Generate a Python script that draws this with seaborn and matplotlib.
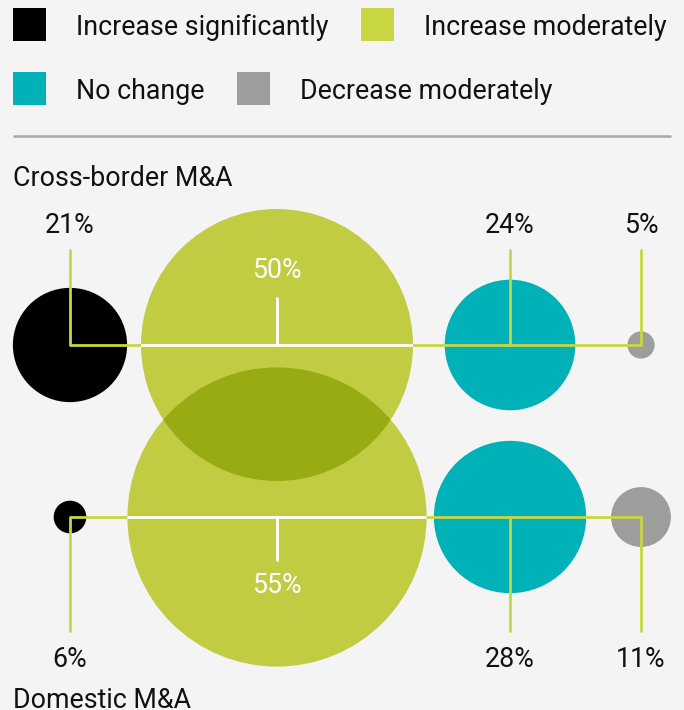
import matplotlib
matplotlib.use("Agg")
import matplotlib.pyplot as plt
from matplotlib.patches import Circle, Rectangle
import seaborn as sns
import pandas as pd

# ---------------- data ----------------
categories = ["Increase significantly", "Increase moderately", "No change", "Decrease moderately"]
cross_border = [21, 50, 24, 5]
domestic = [6, 55, 28, 11]
row_titles = ["Cross-border M&A", "Domestic M&A"]

df = pd.DataFrame({"category": categories * 2,
                   "value": cross_border + domestic,
                   "row": [row_titles[0]] * 4 + [row_titles[1]] * 4})

# ---------------- style ----------------
BG = "#f4f4f4"
colors = ["#000000", "#c1cc42", "#00b2b7", "#9d9d9c"]
legend_colors = ["#000000", "#c8d642", "#00b2b7", "#9d9d9c"]
OVERLAP = "#99ab12"
LINE = "#c8d642"
sns.set_theme(style="white")
plt.rcParams["font.family"] = ["Roboto", "DejaVu Sans"]

W, H = 684, 710
fig = plt.figure(figsize=(W / 100, H / 100), dpi=100, facecolor=BG)
ax = fig.add_axes([0, 0, 1, 1])
ax.set_facecolor(BG)
ax.set_xlim(0, W)
ax.set_ylim(H, 0)
ax.set_aspect("equal")
ax.axis("off")

FS = 19.3
TXT = "#111111"

# ---------------- legend (flow layout) ----------------
renderer = fig.canvas.get_renderer()
legend_rows = [[0, 1], [2, 3]]
row_top = [8, 72]
row_base = [35, 99]
for r, idxs in enumerate(legend_rows):
    x = 13
    for i in idxs:
        ax.add_patch(Rectangle((x, row_top[r]), 33, 33, color=legend_colors[i], lw=0))
        t = ax.text(x + 63, row_base[r], categories[i], fontsize=FS, color=TXT,
                    ha="left", va="baseline")
        bb = t.get_window_extent(renderer=renderer)
        x = bb.x1 + 32

# separator
ax.plot([13, 671], [136, 136], color="#a8a8a8", lw=1.8, solid_capstyle="butt")

# row titles
ax.text(13, 186, row_titles[0], fontsize=FS, color=TXT, ha="left", va="baseline")
ax.text(13, 708, row_titles[1], fontsize=FS, color=TXT, ha="left", va="baseline")

# ---------------- bubbles ----------------
col_x = [70, 277, 510, 641]
row_y = [345, 517]
K = 2.72  # px radius per percentage point
LW = 2.0

big = []
for r, rt in enumerate(row_titles):
    sub = df[df["row"] == rt].reset_index(drop=True)
    for i, v in enumerate(sub["value"]):
        c = Circle((col_x[i], row_y[r]), v * K, color=colors[i], lw=0, zorder=2)
        ax.add_patch(c)
        if i == 1:
            big.append(c)

# darker overlap of the two big circles
ov = Circle(big[1].center, big[1].radius, color=OVERLAP, lw=0, zorder=3)
ax.add_patch(ov)
ov.set_clip_path(big[0])

for r, rt in enumerate(row_titles):
    sub = df[df["row"] == rt].reset_index(drop=True)
    y = row_y[r]
    # horizontal connector
    ax.plot([col_x[0], col_x[3]], [y, y], color=LINE, lw=LW, zorder=4,
            solid_capstyle="butt")
    wl, = ax.plot([col_x[0], col_x[3]], [y, y], color="white", lw=LW, zorder=5,
                  solid_capstyle="butt")
    wl.set_clip_path(big[r])
    for i, v in enumerate(sub["value"]):
        lab = f"{v}%"
        if r == 0:
            if i == 1:
                ax.plot([col_x[i], col_x[i]], [298, y], color="white", lw=LW, zorder=5)
                ax.text(col_x[i], 278, lab, fontsize=FS, color="white", ha="center",
                        va="baseline", zorder=6)
            else:
                ax.plot([col_x[i], col_x[i]], [250, y], color=LINE, lw=LW, zorder=4)
                ax.text(col_x[i], 233, lab, fontsize=FS, color=TXT, ha="center",
                        va="baseline", zorder=6)
        else:
            if i == 1:
                ax.plot([col_x[i], col_x[i]], [y, 560], color="white", lw=LW, zorder=5)
                ax.text(col_x[i], 593, lab, fontsize=FS, color="white", ha="center",
                        va="baseline", zorder=6)
            else:
                ax.plot([col_x[i], col_x[i]], [y, 631], color=LINE, lw=LW, zorder=4)
                ax.text(col_x[i], 667, lab, fontsize=FS, color=TXT, ha="center",
                        va="baseline", zorder=6)

fig.savefig("out.png", dpi=100, facecolor=BG)
